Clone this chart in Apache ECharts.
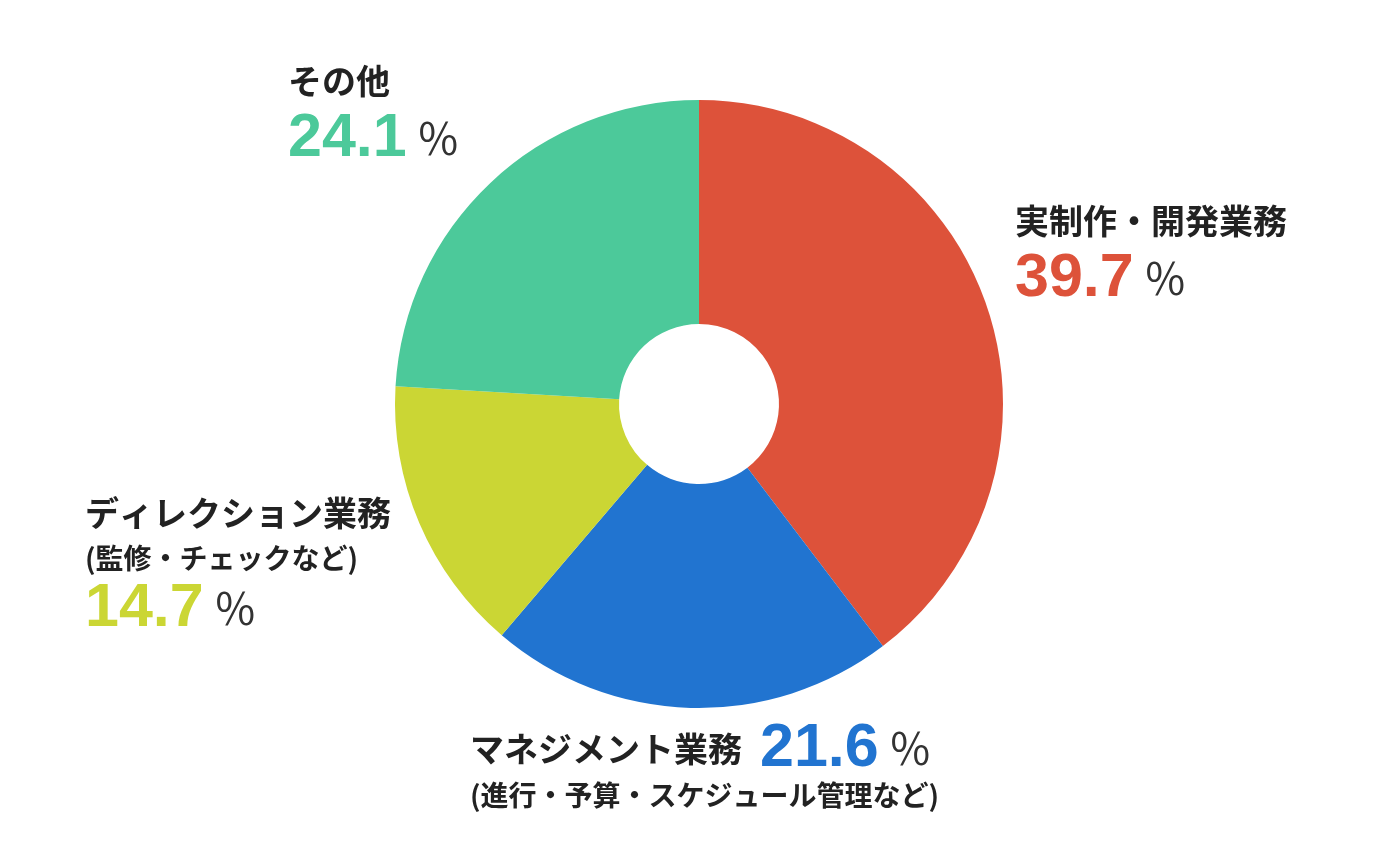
<!DOCTYPE html>
<html><head><meta charset="utf-8">
<script src="https://cdn.jsdelivr.net/npm/echarts@6/dist/echarts.min.js"></script>
<style>html,body{margin:0;padding:0;background:#fff}#c{width:1400px;height:860px}</style>
</head><body><div id="c"></div>
<script>
const categories = ['実制作・開発業務', 'マネジメント業務', 'ディレクション業務', 'その他'];
const subtitles = ['', '(進行・予算・スケジュール管理など)', '(監修・チェックなど)', ''];
const values = [39.7, 21.6, 14.7, 24.1];
const colors = ['#DD523A', '#2174D0', '#CBD634', '#4CC99A'];

// label layout (top-left of each label block)
const labelPos = [[1015, 195], [470, 722], [85, 487], [288, 55]];

const JP = '"Noto Sans CJK JP", sans-serif';
const NUM = '"Liberation Sans", Arial, sans-serif';
const rich = {
  name: {fontFamily: JP, fontSize: 34, fontWeight: 'bold', color: '#222', lineHeight: 52},
  sub: {fontFamily: JP, fontSize: 28, fontWeight: 'bold', color: '#222', lineHeight: 38},
  pct: {fontFamily: JP, fontSize: 43, fontWeight: 'normal', color: '#333', lineHeight: 64, padding: [0, 0, 0, 10]},
  pct1: {fontFamily: JP, fontSize: 43, fontWeight: 'normal', color: '#333', lineHeight: 54, padding: [0, 0, 0, 10]},
  gap: {width: 18}
};
colors.forEach((c, i) => {
  rich['num' + i] = {fontFamily: NUM, fontSize: 61, fontWeight: 'bold', color: c, lineHeight: i === 1 ? 54 : 64};
});

function fmt(p) {
  const i = p.dataIndex;
  const v = values[i].toFixed(1);
  const name = '{name|' + categories[i] + '}';
  const num = '{num' + i + '|' + v + '}' + (i === 1 ? '{pct1|％}' : '{pct|％}');
  const sub = subtitles[i] ? '{sub|' + subtitles[i] + '}' : '';
  if (i === 1) return name + '{gap|}' + num + '\n' + sub;
  if (sub) return name + '\n' + sub + '\n' + num;
  return name + '\n' + num;
}

const chart = echarts.init(document.getElementById('c'), null, {renderer: 'canvas'});
chart.setOption({
  animation: false,
  backgroundColor: '#fff',
  series: [{
    type: 'pie',
    center: [699, 404],
    radius: [80, 304],
    startAngle: 90,
    clockwise: true,
    avoidLabelOverlap: false,
    emphasis: {disabled: true},
    itemStyle: {borderWidth: 0},
    label: {show: true, position: 'outside', formatter: fmt, rich: rich, align: 'left'},
    labelLine: {show: false},
    labelLayout: function (p) {
      const q = labelPos[p.dataIndex];
      return {x: q[0], y: q[1], align: 'left', verticalAlign: 'top', moveOverlap: null};
    },
    data: categories.map((c, i) => ({name: c, value: values[i], itemStyle: {color: colors[i]}}))
  }]
});
</script></body></html>
